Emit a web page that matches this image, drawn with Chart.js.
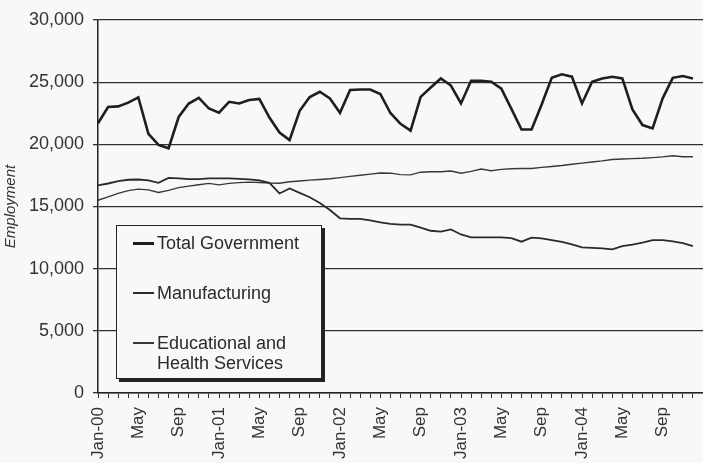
<!DOCTYPE html>
<html>
<head>
<meta charset="utf-8">
<script src="https://cdn.jsdelivr.net/npm/chart.js@4/dist/chart.umd.min.js"></script>
<style>
  html, body { margin: 0; padding: 0; background: #f8f8f6; overflow: hidden; }
  #wrap { position: relative; width: 703px; height: 463px; }
  #legend {
    position: absolute; left: 116px; top: 225px; width: 204px; height: 152px;
    border: 1px solid #222; background: #f8f8f6; box-shadow: 3px 3px 0 #222;
    font-family: "Liberation Sans", Arial, sans-serif; font-size: 18px; color: #2a2a2a;
  }
  .item { position: absolute; left: 16px; line-height: 20px; display: flex; align-items: flex-start; }
  .swatch { width: 21px; margin-top: 9px; margin-right: 3px; flex: none; }
  .txt { max-width: 160px; }
</style>
</head>
<body>
<div id="wrap">
  <canvas id="empleo" width="703" height="463"></canvas>
  <div id="legend"></div>
</div>
<script>
// meses Jan-00 .. Jan-05 (el ultimo solo cierra el eje)
const years = ['00', '01', '02', '03', '04', '05']
const monthNames = ['Jan', 'Feb', 'Mar', 'Apr', 'May', 'Jun', 'Jul', 'Aug', 'Sep', 'Oct', 'Nov', 'Dec']
const months = []
years.forEach(y => monthNames.forEach(m => months.push(m === 'Jan' ? m + '-' + y : m)))
months.length = 61

const seriesNames = ['Total Government', 'Manufacturing', 'Educational and Health Services']

const government = [
    21700, 23000, 23050, 23350, 23770, 20850, 19950, 19680, 22200, 23280, 23740, 22880,
    22540, 23420, 23290, 23560, 23650, 22150, 20950, 20340, 22700, 23800, 24230, 23690,
    22540, 24370, 24410, 24410, 24050, 22520, 21650, 21100, 23820, 24570, 25300, 24730,
    23290, 25110, 25110, 25040, 24480, 22850, 21190, 21190, 23200, 25350, 25630, 25440,
    23290, 25030, 25300, 25430, 25300, 22800, 21550, 21280, 23700, 25350, 25490, 25300
]

const manufacturing = [
    16700, 16850, 17040, 17150, 17170, 17100, 16900, 17300, 17270, 17200, 17200, 17260,
    17260, 17260, 17220, 17180, 17100, 16900, 16050, 16450, 16100, 15740, 15280, 14720,
    14050, 14000, 14000, 13880, 13730, 13600, 13550, 13550, 13300, 13050, 12980, 13160,
    12750, 12520, 12520, 12520, 12520, 12450, 12170, 12500, 12440, 12300, 12150, 11950,
    11720, 11680, 11630, 11550, 11820, 11930, 12100, 12300, 12300, 12200, 12050, 11820
]

const eduHealth = [
    15500, 15780, 16050, 16280, 16400, 16340, 16130, 16300, 16520, 16640, 16750, 16860,
    16740, 16860, 16920, 16960, 16930, 16890, 16870, 16990, 17050, 17120, 17170, 17230,
    17320, 17420, 17510, 17600, 17690, 17680, 17560, 17540, 17760, 17790, 17800, 17850,
    17680, 17830, 18010, 17880, 17990, 18040, 18060, 18060, 18150, 18220, 18300, 18400,
    18490, 18580, 18670, 18780, 18820, 18850, 18880, 18930, 18990, 19080, 19000, 19000
]

const yTicks = [0, 5000, 10000, 15000, 20000, 25000, 30000]

const fontFam = '"Liberation Sans", Arial, sans-serif'

const chart = new Chart(document.getElementById('empleo'), {
    type: 'line',
    data: {
        labels: months,
        datasets: [
            { label: seriesNames[0], data: government, borderColor: '#1e1e1e', borderWidth: 2.6 },
            { label: seriesNames[1], data: manufacturing, borderColor: '#2a2a2a', borderWidth: 1.8 },
            { label: seriesNames[2], data: eduHealth, borderColor: '#383838', borderWidth: 1.4 }
        ]
    },
    options: {
        responsive: false,
        animation: false,
        devicePixelRatio: 1,
        layout: { padding: { top: 20, right: 0, bottom: 0, left: 0 } },
        elements: { point: { radius: 0 }, line: { tension: 0 } },
        plugins: { legend: { display: false }, tooltip: { enabled: false } },
        scales: {
            x: {
                offset: false,
                grid: { drawOnChartArea: false, tickLength: 5, color: '#333' },
                border: { color: '#222', width: 1.5 },
                ticks: {
                    autoSkip: false, maxRotation: 90, minRotation: 90, padding: 9,
                    color: '#333', font: { family: fontFam, size: 17 },
                    callback: (v, i) => (i % 4 === 0 && i < 60) ? months[i] : ''
                },
                afterFit: s => { s.height = 70; s.paddingLeft = 0; s.paddingRight = 0 }
            },
            y: {
                min: 0, max: 30000,
                afterBuildTicks: s => { s.ticks = yTicks.map(v => ({ value: v })) },
                grid: { color: '#303030', lineWidth: 1.3, tickLength: 5 },
                border: { color: '#222', width: 1.5 },
                ticks: {
                    padding: 9, color: '#333', font: { family: fontFam, size: 18 },
                    callback: v => v.toLocaleString('en-US')
                },
                title: {
                    display: true, text: 'Employment', color: '#333', padding: { top: 2, bottom: 0 },
                    font: { family: fontFam, size: 15, style: 'italic' }
                },
                afterFit: s => { s.width = 98 }
            }
        }
    }
})

// leyenda en recuadro, como en el original
const legend = document.getElementById('legend')
chart.data.datasets.forEach((ds, i) => {
    const item = document.createElement('div')
    item.className = 'item'
    item.style.top = (7 + i * 50) + 'px'
    const sw = document.createElement('span')
    sw.className = 'swatch'
    sw.style.borderTop = Math.round(ds.borderWidth + 0.5) + 'px solid ' + ds.borderColor
    const tx = document.createElement('span')
    tx.className = 'txt'
    tx.textContent = ds.label
    item.appendChild(sw)
    item.appendChild(tx)
    legend.appendChild(item)
})
</script>
</body>
</html>
